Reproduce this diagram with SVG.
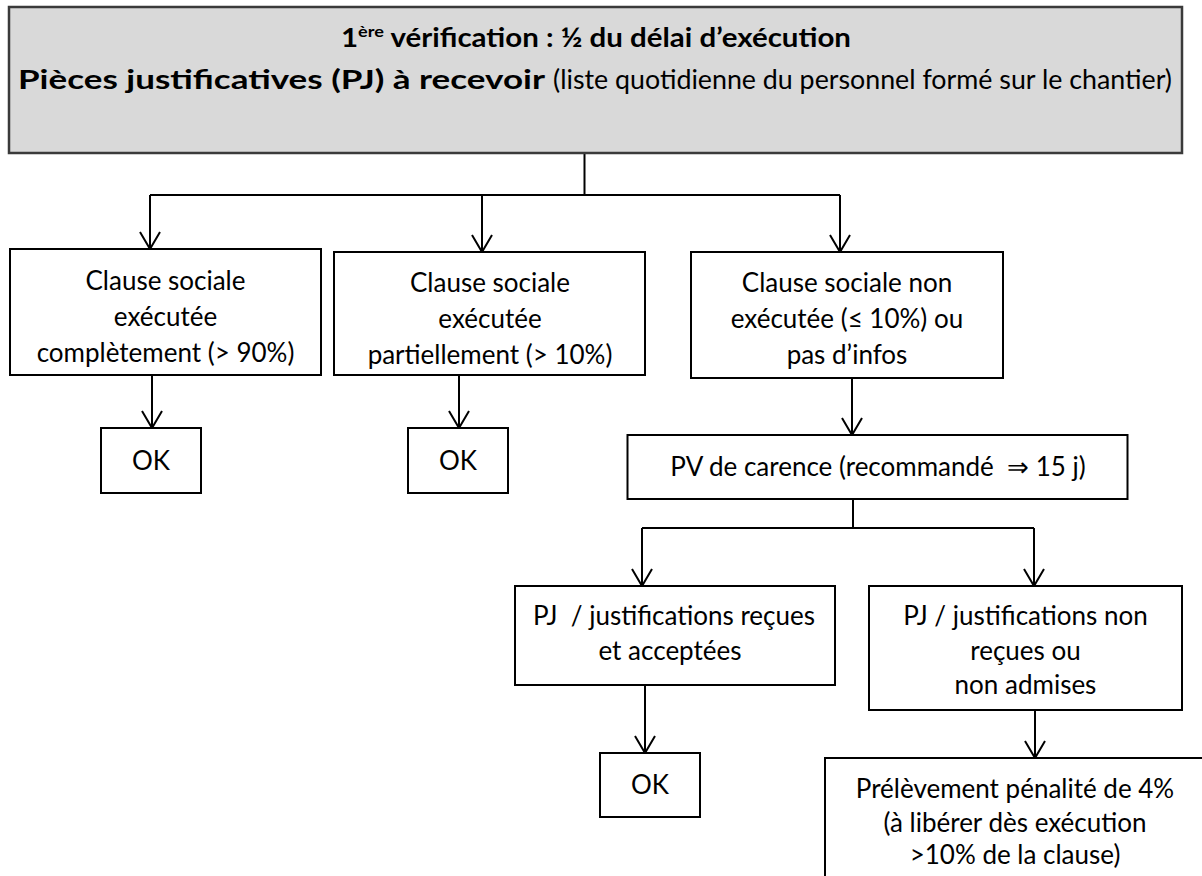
<svg xmlns="http://www.w3.org/2000/svg" width="1202" height="876" viewBox="0 0 1202 876">
<defs>
<style>
.box{fill:#ffffff;stroke:#000000;stroke-width:2}
.top{fill:#d9d9d9;stroke:#3a3a3a;stroke-width:2.5}
.c{fill:none;stroke:#000000;stroke-width:2}
text{font-family:Lato,"Open Sans","Liberation Sans",sans-serif;font-size:26px;fill:#000000;text-anchor:middle}
.b{font-weight:bold}
.s{text-anchor:start}
</style>
<marker id="arr" markerUnits="userSpaceOnUse" markerWidth="24" markerHeight="24" viewBox="-20 -12 24 24" refX="0" refY="0" orient="auto">
<path d="M-17,-10 L0,0 L-17,10" fill="none" stroke="#000000" stroke-width="2"/>
</marker>
</defs>
<rect width="1202" height="876" fill="#ffffff"/>
<g id="connectors">
<path class="c" d="M584.5,153 V195"/>
<path class="c" d="M150,195 H840"/>
<path class="c" d="M150,195 V249" marker-end="url(#arr)"/>
<path class="c" d="M482,195 V252" marker-end="url(#arr)"/>
<path class="c" d="M840,195 V252" marker-end="url(#arr)"/>
<path class="c" d="M152,375 V428" marker-end="url(#arr)"/>
<path class="c" d="M459,375 V428" marker-end="url(#arr)"/>
<path class="c" d="M852,378 V435" marker-end="url(#arr)"/>
<path class="c" d="M853,499 V528"/>
<path class="c" d="M642,528 H1034"/>
<path class="c" d="M642,528 V586" marker-end="url(#arr)"/>
<path class="c" d="M1034,528 V586" marker-end="url(#arr)"/>
<path class="c" d="M645,685 V753" marker-end="url(#arr)"/>
<path class="c" d="M1035,710 V758" marker-end="url(#arr)"/>
</g>
<g id="n-top">
<rect class="top" x="9" y="7" width="1173" height="146"/>
<text class="b" x="596" y="47" textLength="510" lengthAdjust="spacingAndGlyphs">1<tspan font-size="16" dy="-10">ère</tspan><tspan dy="10"> vérification : ½ du délai d’exécution</tspan></text>
<text class="b s" x="18" y="89" textLength="527" lengthAdjust="spacingAndGlyphs">Pièces justificatives (PJ) à recevoir</text>
<text class="s" x="553" y="89" textLength="619" lengthAdjust="spacingAndGlyphs">(liste quotidienne du personnel formé sur le chantier)</text>
</g>
<g id="n-complet">
<rect class="box" x="10" y="249" width="311" height="126"/>
<text x="165.5" y="290">Clause sociale</text>
<text x="165.5" y="326">exécutée</text>
<text x="165.5" y="362">complètement (&gt; 90%)</text>
</g>
<g id="n-partiel">
<rect class="box" x="334" y="252" width="311" height="123"/>
<text x="490" y="292">Clause sociale</text>
<text x="490" y="328">exécutée</text>
<text x="490" y="364">partiellement (&gt; 10%)</text>
</g>
<g id="n-non">
<rect class="box" x="691" y="252" width="312" height="126"/>
<text x="847" y="292">Clause sociale non</text>
<text x="847" y="328">exécutée (≤ 10%) ou</text>
<text x="847" y="364">pas d’infos</text>
</g>
<g id="n-ok1">
<rect class="box" x="101" y="428" width="100" height="65"/>
<text x="151" y="470">OK</text>
</g>
<g id="n-ok2">
<rect class="box" x="408" y="428" width="100" height="65"/>
<text x="458" y="470">OK</text>
</g>
<g id="n-pv">
<rect class="box" x="627.5" y="435" width="500" height="64"/>
<text x="878" y="476" xml:space="preserve">PV de carence (recommandé  ⇒ 15 j)</text>
</g>
<g id="n-pj-ok">
<rect class="box" x="515" y="586" width="320" height="99"/>
<text x="674" y="625" xml:space="preserve">PJ  / justifications reçues</text>
<text x="670" y="660">et acceptées</text>
</g>
<g id="n-pj-non">
<rect class="box" x="869" y="586" width="313" height="124"/>
<text x="1025.5" y="625">PJ / justifications non</text>
<text x="1025.5" y="660">reçues ou</text>
<text x="1025.5" y="694">non admises</text>
</g>
<g id="n-ok3">
<rect class="box" x="600" y="753" width="100" height="64"/>
<text x="650" y="794">OK</text>
</g>
<g id="n-penalite">
<rect class="box" x="825" y="758" width="400" height="140"/>
<text x="1015" y="798">Prélèvement pénalité de 4%</text>
<text x="1015" y="832">(à libérer dès exécution</text>
<text x="1015" y="864">&gt;10% de la clause)</text>
</g>
</svg>
